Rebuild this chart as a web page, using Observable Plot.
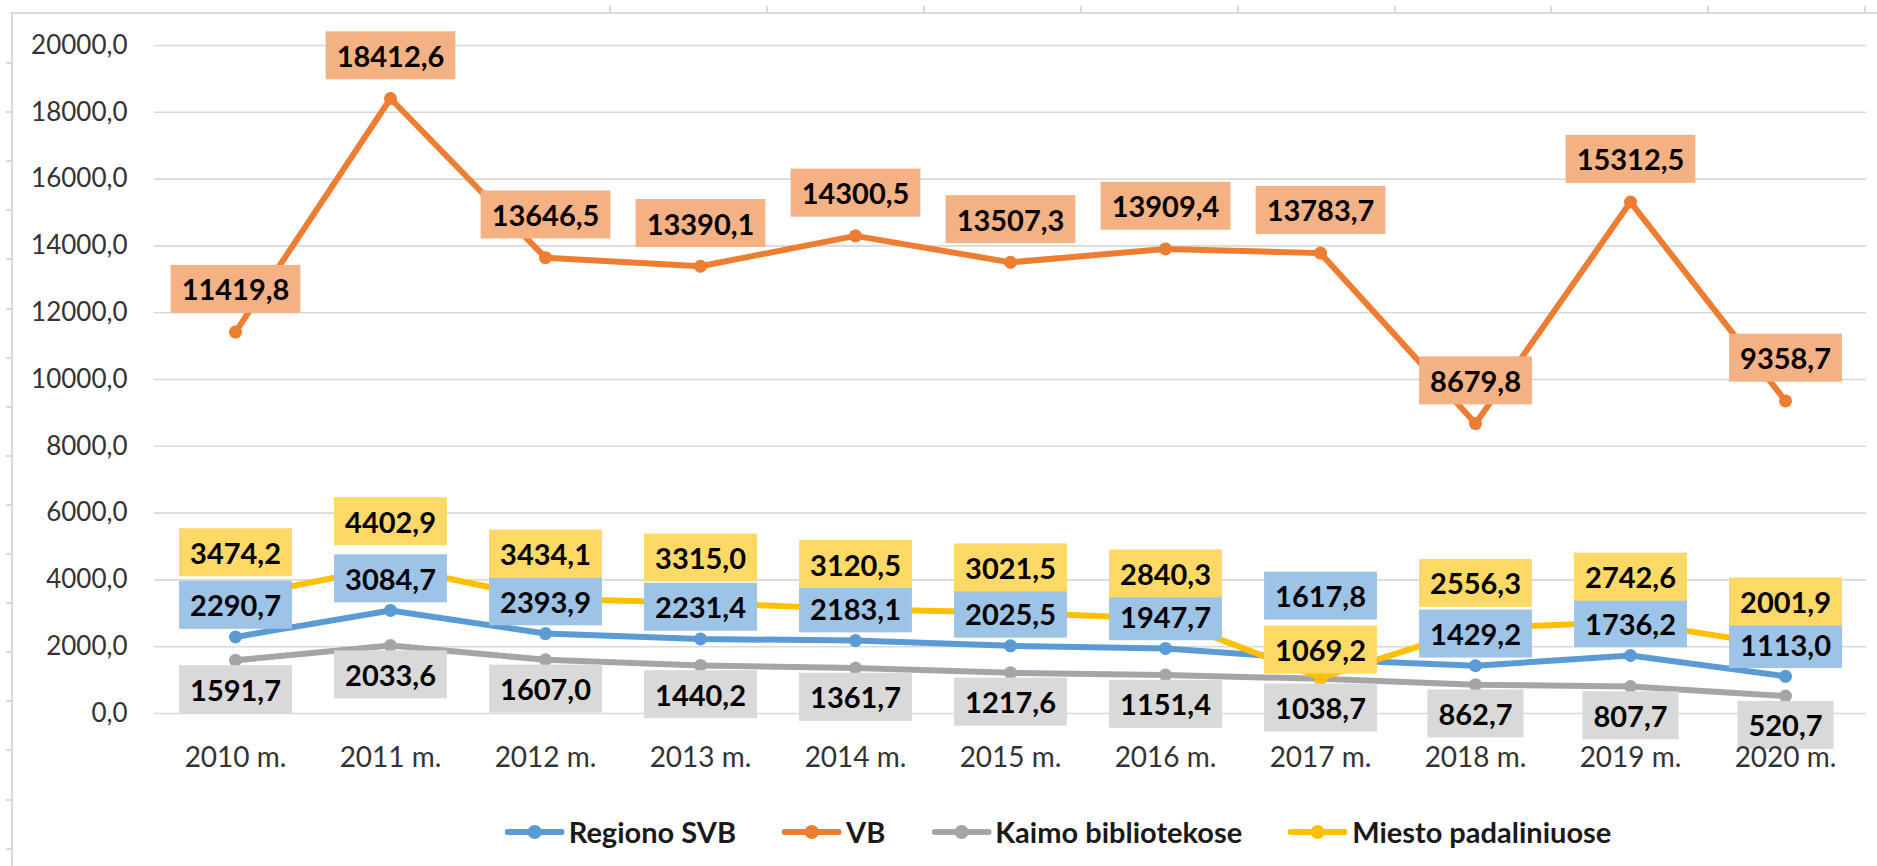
<!DOCTYPE html>
<html>
<head>
<meta charset="utf-8">
<script src="https://cdn.jsdelivr.net/npm/d3@7"></script>
<script src="https://cdn.jsdelivr.net/npm/@observablehq/plot@0.6"></script>
<style>
  html, body { margin: 0; padding: 0; background: #ffffff; }
  #wrap { position: relative; width: 1877px; height: 866px; overflow: hidden; font-family: Lato, "Open Sans", sans-serif; }
  #chart { position: absolute; left: 0; top: 0; }
  .frameV { position: absolute; left: 11px; top: 12px; width: 2px; height: 854px; background: #d9d9d9; }
  .frameH { position: absolute; left: 10px; top: 12px; width: 1867px; height: 2px; background: #d9d9d9; }
  .tickV { position: absolute; left: 6px; width: 6px; height: 2px; background: #d9d9d9; }
  .tickH { position: absolute; top: 6px; width: 2px; height: 7px; background: #d9d9d9; }
  #legend { position: absolute; top: 814px; left: 1058px; transform: translateX(-50%); display: flex; gap: 46px; align-items: center; white-space: nowrap; }
  .item { display: flex; align-items: center; gap: 4px; font-family: Lato, sans-serif; font-weight: 700; font-size: 29px; color: #1a1a1a; }
  .item svg { display: block; }
</style>
</head>
<body>
<div id="wrap">
  <div id="chart"></div>
  <div class="frameV"></div>
  <div class="frameH"></div>
  <div id="legend"></div>
</div>
<script>
// ---- Data ----
const years = ["2010 m.", "2011 m.", "2012 m.", "2013 m.", "2014 m.", "2015 m.", "2016 m.", "2017 m.", "2018 m.", "2019 m.", "2020 m."];
const regionoSVB = [2290.7, 3084.7, 2393.9, 2231.4, 2183.1, 2025.5, 1947.7, 1617.8, 1429.2, 1736.2, 1113.0];
const vb = [11419.8, 18412.6, 13646.5, 13390.1, 14300.5, 13507.3, 13909.4, 13783.7, 8679.8, 15312.5, 9358.7];
const kaimoBibliotekose = [1591.7, 2033.6, 1607.0, 1440.2, 1361.7, 1217.6, 1151.4, 1038.7, 862.7, 807.7, 520.7];
const miestoPadaliniuose = [3474.2, 4402.9, 3434.1, 3315.0, 3120.5, 3021.5, 2840.3, 1069.2, 2556.3, 2742.6, 2001.9];
const seriesNames = ["Regiono SVB", "VB", "Kaimo bibliotekose", "Miesto padaliniuose"];
const yTicks = [0, 2000, 4000, 6000, 8000, 10000, 12000, 14000, 16000, 18000, 20000];

// ---- Styles ----
const lineColors = ["#5B9BD5", "#ED7D31", "#A5A5A5", "#FFC000"];
const boxColors = ["#9DC3E6", "#F4B183", "#D9D9D9", "#FFD966"];

const fmt = d3.formatLocale({decimal: ",", thousands: "", grouping: [3], currency: ["", ""]}).format(".1f");

const seriesValues = [regionoSVB, vb, kaimoBibliotekose, miestoPadaliniuose];
const rows = seriesNames.flatMap((s, si) => years.map((yr, i) => ({series: s, si, year: yr, i, value: seriesValues[si][i]})));
const bySeries = si => rows.filter(d => d.si === si);

// yellow label sits below blue when the Miesto value is lower than Regiono
const swapped = i => miestoPadaliniuose[i] < regionoSVB[i];

const labelStyle = {x: "year", y: "value", text: d => fmt(d.value), fontSize: 29, fontWeight: "bold", fill: "#000", lineAnchor: "middle"};

const plot = Plot.plot({
  width: 1877,
  height: 790,
  marginLeft: 154,
  marginRight: 11,
  marginTop: 45,
  marginBottom: 77,
  style: {fontFamily: "Lato, 'Open Sans', sans-serif", background: "transparent", overflow: "visible"},
  x: {type: "point", domain: years, padding: 0.5},
  y: {domain: [0, 20000]},
  color: {domain: seriesNames, range: lineColors},
  marks: [
    Plot.gridY(yTicks, {stroke: "#d9d9d9", strokeOpacity: 1, strokeWidth: 1.6}),
    Plot.axisY(yTicks, {tickSize: 0, tickPadding: 27, tickFormat: fmt, fontSize: 26, color: "#333", label: null}),
    ...seriesNames.map((s, si) => Plot.line(bySeries(si), {x: "year", y: "value", stroke: "series", strokeWidth: 6, strokeLinejoin: "round", strokeLinecap: "round"})),
    ...seriesNames.map((s, si) => Plot.dot(bySeries(si), {x: "year", y: "value", fill: "series", r: 6.5})),
    // data labels (series order: blue, orange, gray, yellow)
    Plot.text(bySeries(0).filter(d => !swapped(d.i)), {...labelStyle, dy: -30, title: () => "box-0"}),
    Plot.text(bySeries(1), {...labelStyle, dy: -41, title: () => "box-1"}),
    Plot.text(bySeries(2), {...labelStyle, dy: 31, title: () => "box-2"}),
    Plot.text(bySeries(3).filter(d => !swapped(d.i)), {...labelStyle, dy: -43, title: () => "box-3"}),
    Plot.text(bySeries(3).filter(d => swapped(d.i)), {...labelStyle, dy: -26, title: () => "box-3"}),
    // blue label stacked above the yellow one where they swap
    Plot.text(bySeries(3).filter(d => swapped(d.i)), {...labelStyle, text: d => fmt(regionoSVB[d.i]), dy: -80, title: () => "box-0"}),
    Plot.axisX({tickSize: 0, tickPadding: 34, fontSize: 28, color: "#333", label: null})
  ]
});

document.getElementById("chart").appendChild(plot);

// background boxes behind each data label, sized from the rendered text
const svg = plot.tagName.toLowerCase() === "svg" ? plot : plot.querySelector("svg");
svg.querySelectorAll("text").forEach(t => {
  const tt = t.querySelector("title");
  if (!tt || !/^box-\d$/.test(tt.textContent)) return;
  const si = +tt.textContent.split("-")[1];
  tt.remove();
  const bb = t.getBBox();
  const cy = bb.y + bb.height / 2;
  const r = document.createElementNS("http://www.w3.org/2000/svg", "rect");
  r.setAttribute("x", bb.x - 11);
  r.setAttribute("y", cy - 24);
  r.setAttribute("width", bb.width + 22);
  r.setAttribute("height", 48);
  r.setAttribute("fill", boxColors[si]);
  const tr = t.getAttribute("transform");
  if (tr) r.setAttribute("transform", tr);
  t.parentNode.insertBefore(r, t);
});

// decorative frame ticks
const wrap = document.getElementById("wrap");
for (let k = 0; k < 17; k++) {
  const d = document.createElement("div");
  d.className = "tickV";
  d.style.top = (62 + 49.1 * k) + "px";
  wrap.appendChild(d);
}
for (let k = 0; k < 9; k++) {
  const d = document.createElement("div");
  d.className = "tickH";
  d.style.left = (609 + 156.9 * k) + "px";
  wrap.appendChild(d);
}

// legend
const legend = document.getElementById("legend");
seriesNames.forEach((s, si) => {
  const item = document.createElement("div");
  item.className = "item";
  item.innerHTML = `<svg width="60" height="20"><line x1="3" y1="10" x2="57" y2="10" stroke="${lineColors[si]}" stroke-width="6" stroke-linecap="round"/><circle cx="30" cy="10" r="7" fill="${lineColors[si]}"/></svg><span>${s}</span>`;
  legend.appendChild(item);
});
</script>
</body>
</html>
